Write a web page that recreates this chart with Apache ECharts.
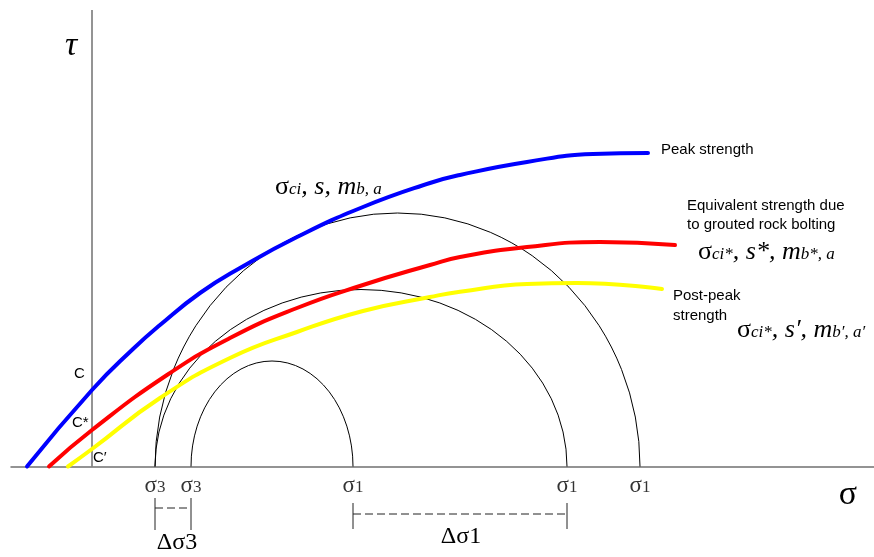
<!DOCTYPE html>
<html><head><meta charset="utf-8">
<script src="https://cdn.jsdelivr.net/npm/echarts@6/dist/echarts.min.js"></script>
<style>html,body{margin:0;padding:0;background:#fff}#c{width:874px;height:557px}</style>
</head><body><div id="c"></div>
<script>
// Schematic units: σ measured from the τ-axis, τ measured from the σ-axis
const sigma3 = [99, 63];            // σ3 of the small circle, σ3 of the two larger circles
const sigma1 = [261, 475, 548];     // σ1 of the three Mohr circles
// Mohr circles: σ3, σ1 and crown height τ
const circleS3 = [99, 63, 63];
const circleS1 = [261, 475, 548];
const circleTop = [105.5, 177, 253.5];

// Peak strength envelope (blue)
const peakSigma = [-65, 0, 41, 68, 108, 148, 205, 271, 338, 368, 435, 501, 556];
const peakTau   = [0, 76.5, 117.5, 141.5, 173.5, 198.5, 229.5, 259.5, 283.5, 291.5, 304.5, 312.5, 313.5];
// Equivalent strength due to grouted rock bolting (red)
const boltSigma = [-43, 0, 75, 138, 205, 271, 338, 368, 435, 508, 583];
const boltTau   = [0, 36.5, 91.5, 128.5, 158.5, 181.5, 201.5, 209.5, 219.5, 224.5, 221.5];
// Post-peak strength envelope (yellow)
const postSigma = [-24, 0, 68, 138, 205, 271, 338, 368, 435, 485, 570];
const postTau   = [0, 17.5, 68.5, 108.5, 134.5, 155.5, 169.5, 174.8, 182.5, 183.5, 177.5];

const zip = (a, b) => a.map((v, i) => [v, b[i]]);
const circles = circleS3.map((v, i) => [v, circleS1[i], circleTop[i]]);
const deltaPairs = [[sigma3[1], sigma3[0]], [sigma1[0], sigma1[1]]];
const bracketY = [[-31.5, -63.5, -41.5], [-36.5, -62.5, -47.5]];

const SERIF = '"Liberation Serif", "Times New Roman", serif';
const SANS = '"Liberation Sans", Arial, sans-serif';
const AXIS = '#707070';

const chart = echarts.init(document.getElementById('c'), null, {renderer: 'canvas'});

function curve(name, data, color) {
  return {
    name, type: 'line', data, smooth: 0.5, symbol: 'none',
    lineStyle: {color, width: 4, cap: 'round', join: 'round'}, z: 4, silent: true, animation: false
  };
}

function txt(x, y, text, font, align, extra) {
  return {
    type: 'text', x, y, silent: true,
    style: Object.assign({
      text, font, fill: '#000',
      align: align || 'left', verticalAlign: 'middle',
      textAlign: align || 'left', textVerticalAlign: 'middle'
    }, extra || {})
  };
}

const richParams = {
  g: {fontFamily: SERIF, fontSize: 26, lineHeight: 26, verticalAlign: 'bottom'},
  G: {fontFamily: SERIF, fontSize: 26, fontStyle: 'italic', lineHeight: 26, verticalAlign: 'bottom'},
  i: {fontFamily: SERIF, fontSize: 17, fontStyle: 'italic', lineHeight: 17, verticalAlign: 'bottom', padding: [0, 0, 2, 0]}
};

function richTxt(x, y, text) {
  return {
    type: 'text', x, y, silent: true,
    style: {text, rich: richParams, fill: '#000', align: 'left', verticalAlign: 'middle',
      textAlign: 'left', textVerticalAlign: 'middle'}
  };
}

const option = {
  animation: false,
  backgroundColor: '#fff',
  grid: {left: 11, right: 0, top: 0, bottom: 0, containLabel: false},
  xAxis: {
    type: 'value', min: -81, max: 782,
    axisLine: {show: true, onZero: true, lineStyle: {color: AXIS, width: 1.5}},
    axisTick: {show: false}, axisLabel: {show: false}, splitLine: {show: false}
  },
  yAxis: {
    type: 'value', min: -90.5, max: 466.5,
    axisLine: {show: false}, axisTick: {show: false}, axisLabel: {show: false}, splitLine: {show: false}
  },
  series: [
    { // τ axis line
      type: 'line', data: [[0, 0], [0, 456.5]], symbol: 'none', silent: true,
      lineStyle: {color: AXIS, width: 1.5}, z: 1
    },
    { // Mohr circles
      type: 'custom', data: circles, silent: true, z: 2,
      renderItem(params, api) {
        const a = api.coord([api.value(0), 0]);
        const b = api.coord([api.value(1), 0]);
        const t = api.coord([(api.value(0) + api.value(1)) / 2, api.value(2)]);
        const rx = (b[0] - a[0]) / 2, ry = a[1] - t[1];
        return {
          type: 'path',
          shape: {pathData: `M${a[0]} ${a[1]} A${rx} ${ry} 0 0 1 ${b[0]} ${b[1]}`},
          style: {fill: 'none', stroke: '#000', lineWidth: 1}
        };
      }
    },
    curve('Peak strength', zip(peakSigma, peakTau), '#0000ff'),
    curve('Equivalent strength', zip(boltSigma, boltTau), '#ff0000'),
    curve('Post-peak strength', zip(postSigma, postTau), '#ffff00'),
    { // Δσ brackets
      type: 'custom', data: deltaPairs.map((p, i) => [p[0], p[1], i]), silent: true, z: 3,
      renderItem(params, api) {
        const yy = bracketY[api.value(2)];
        const a = api.coord([api.value(0), yy[0]]);
        const a2 = api.coord([api.value(0), yy[1]]);
        const b = api.coord([api.value(1), yy[0]]);
        const m = api.coord([api.value(0), yy[2]]);
        const st = {stroke: '#222', lineWidth: 1};
        return {type: 'group', children: [
          {type: 'line', shape: {x1: a[0], y1: a[1], x2: a2[0], y2: a2[1]}, style: st},
          {type: 'line', shape: {x1: b[0], y1: a[1], x2: b[0], y2: a2[1]}, style: st},
          {type: 'line', shape: {x1: a[0], y1: m[1], x2: b[0], y2: m[1]},
            style: {stroke: '#222', lineWidth: 1, lineDash: [8, 4]}}
        ]};
      }
    },
    { // σ3 / σ1 labels under the axis
      type: 'scatter', symbolSize: 0, silent: true, z: 5,
      data: sigma3.map(v => ({value: [v, 0], name: '3'})).concat(sigma1.map(v => ({value: [v, 0], name: '1'}))),
      label: {
        show: true, position: 'bottom', distance: 8, color: '#000',
        formatter: p => `{g|σ}{n|${p.name}}`,
        rich: {
          g: {fontFamily: SERIF, fontSize: 23, lineHeight: 23, verticalAlign: 'bottom'},
          n: {fontFamily: SERIF, fontSize: 17, lineHeight: 17, verticalAlign: 'bottom', padding: [0, 0, 1, 0]}
        }
      }
    }
  ],
  graphic: {elements: [
    txt(71, 46, 'τ', 'italic 34px ' + SERIF, 'center'),
    txt(848, 495, 'σ', '34px ' + SERIF, 'center'),
    txt(74, 374, 'C', '15px ' + SANS),
    txt(72, 423, 'C*', '15px ' + SANS),
    txt(93, 458, 'C′', '15px ' + SANS),
    txt(661, 150, 'Peak strength', '15px ' + SANS),
    txt(687, 215, 'Equivalent strength due\nto grouted rock bolting', '15px ' + SANS, 'left', {lineHeight: 19}),
    txt(673, 306, 'Post-peak\nstrength', '15px ' + SANS, 'left', {lineHeight: 20}),
    richTxt(275, 187, '{g|σ}{i|ci}{G|, s, m}{i|b, a}'),
    richTxt(698, 252, '{g|σ}{i|ci*}{G|, s*, m}{i|b*, a}'),
    richTxt(737, 330, '{g|σ}{i|ci*}{G|, s′, m}{i|b′, a′}'),
    txt(177, 543, 'Δσ3', '24px ' + SERIF, 'center'),
    txt(461, 537, 'Δσ1', '24px ' + SERIF, 'center')
  ]}
};
chart.setOption(option);
</script>
</body></html>
